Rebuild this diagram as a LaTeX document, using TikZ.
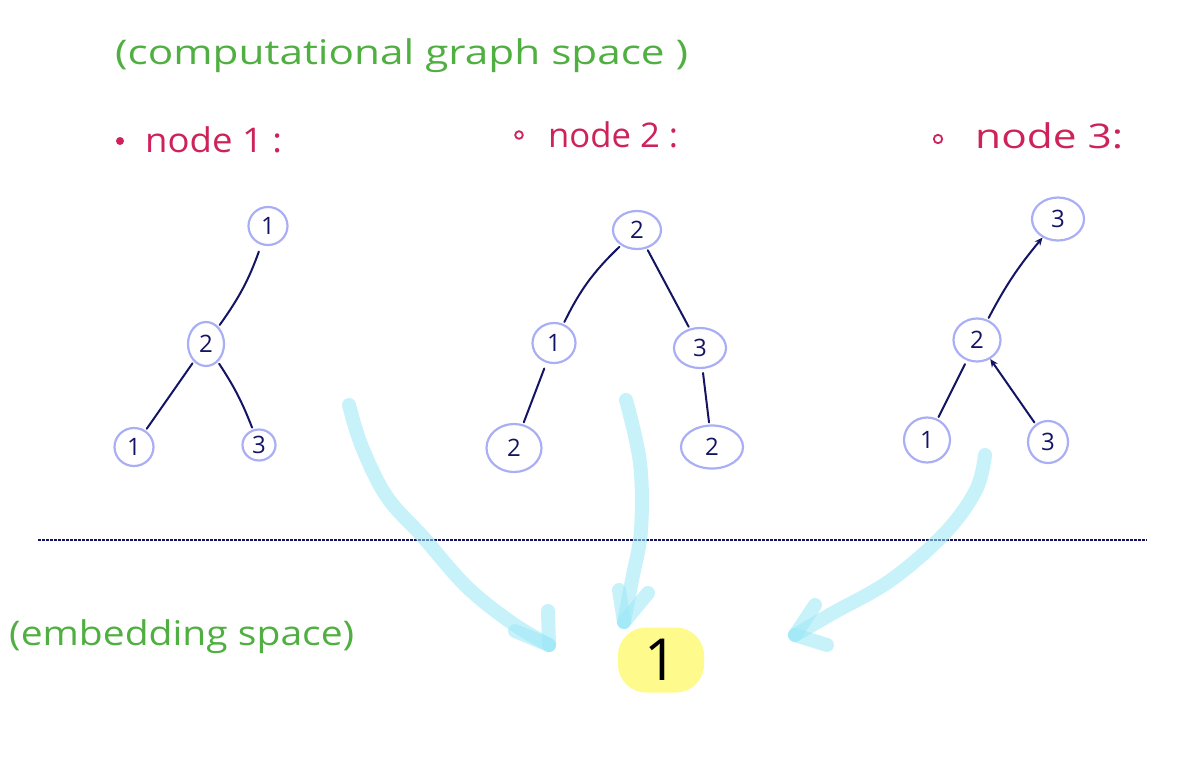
\documentclass[tikz,border=0pt]{standalone}
\usepackage{fontspec}
\setmainfont{Open Sans}
\usetikzlibrary{shapes.geometric,arrows.meta}
\definecolor{hgreen}{RGB}{80,175,65}
\definecolor{hred}{RGB}{205,35,90}
\definecolor{lav}{RGB}{170,175,245}
\definecolor{navyc}{RGB}{20,20,100}
\definecolor{cyanhl}{RGB}{155,231,246}
\definecolor{yel}{RGB}{255,250,140}
\begin{document}
\begin{tikzpicture}[x=1pt,y=-1pt,
  cnode/.style={ellipse,draw=lav,line width=2.2pt,inner sep=0pt,text=navyc,font=\fontsize{24}{24}\selectfont},
  edge/.style={draw=navyc,line width=2pt,line cap=round,shorten <=2pt,shorten >=2pt},
  aedge/.style={edge,-{Stealth[length=8pt,width=7pt]},shorten >=0pt},
  hl/.style={draw=cyanhl,opacity=0.55,line width=14pt,line cap=round,line join=round},
  gtext/.style={anchor=base west,inner sep=0pt,text=hgreen,font=\fontsize{34}{34}\selectfont},
  rtext/.style={anchor=base west,inner sep=0pt,text=hred,font=\fontsize{34}{34}\selectfont},
]
\useasboundingbox (0,0) rectangle (1186,760);
% titles
\node[gtext] (title) at (115,65) {\resizebox{573pt}{\height}{(computational graph space )}};
\node[gtext] (emtitle) at (9,645) {\resizebox{345pt}{\height}{(embedding space)}};
% node labels
\fill[hred] (120,141) circle (4pt);
\node[rtext] (lab1) at (145,152) {\resizebox{137pt}{\height}{node 1 :}};
\draw[hred,line width=1.8pt] (519,135) circle (3.8pt);
\node[rtext] (lab2) at (548,147) {\resizebox{130pt}{\height}{node 2 :}};
\draw[hred,line width=1.8pt] (938,139) circle (4.2pt);
\node[rtext] (lab3) at (975,148) {\resizebox{148pt}{\height}{node 3:}};
% tree 1
\node[cnode,minimum width=39pt,minimum height=38pt] (t1a) at (268,226) {1};
\node[cnode,minimum width=36pt,minimum height=44pt] (t1b) at (206,344) {2};
\node[cnode,minimum width=39pt,minimum height=38pt] (t1c) at (134,447) {1};
\node[cnode,minimum width=33pt,minimum height=31pt] (t1d) at (259,445) {3};
\draw[edge,shorten <=7pt] (t1a) to[bend left=8] (t1b);
\draw[edge] (t1b) -- (t1c);
\draw[edge] (t1b) to[bend left=6] (t1d);
% tree 2
\node[cnode,minimum width=48pt,minimum height=38pt] (t2a) at (637,230) {2};
\node[cnode,minimum width=43pt,minimum height=40pt] (t2b) at (554,343) {1};
\node[cnode,minimum width=55pt,minimum height=48pt] (t2c) at (514,448) {2};
\node[cnode,minimum width=52pt,minimum height=40pt] (t2d) at (700,348) {3};
\node[cnode,minimum width=62pt,minimum height=43pt] (t2e) at (712,447) {2};
\draw[edge] (t2a) to[bend right=10] (t2b);
\draw[edge] (t2a) -- (t2d);
\draw[edge,shorten <=6pt] (t2b) -- (t2c);
\draw[edge,shorten <=4pt] (t2d) -- (t2e);
% tree 3
\node[cnode,minimum width=52pt,minimum height=43pt] (t3a) at (1058,219) {3};
\node[cnode,minimum width=47pt,minimum height=43pt] (t3b) at (977,340) {2};
\node[cnode,minimum width=46pt,minimum height=45pt] (t3c) at (927,440) {1};
\node[cnode,minimum width=40pt,minimum height=42pt] (t3d) at (1048,442) {3};
\draw[aedge] (t3b) to[bend left=6] (t3a);
\draw[edge,shorten <=4pt] (t3b) -- (t3c);
\draw[aedge] (t3d) -- (t3b);
% separator
\coordinate (sepl) at (38,540);
\coordinate (sepr) at (1147,540);
\draw[navyc,line width=1.5pt,dash pattern=on 2.5pt off 1.5pt] (sepl) -- (sepr);
% embedding
\node[fill=yel,rounded corners=28pt,minimum width=86pt,minimum height=65pt,inner sep=0pt,font=\fontsize{58}{58}\selectfont] (emb) at (661,660) {1};
% highlighter arrows
\coordinate (a1s) at (349,405); \coordinate (a1t) at (549,645);
\coordinate (a2s) at (626,400); \coordinate (a2t) at (624,622);
\coordinate (a3s) at (985,455); \coordinate (a3t) at (795,635);
\draw[hl] plot[smooth,tension=0.6] coordinates {(a1s) (362,447) (387,497) (423,537) (467,587) (512,623) (a1t)};
\draw[hl] (548,611) -- (a1t);
\draw[hl] (515,631) -- (a1t);
\draw[hl] plot[smooth,tension=0.6] coordinates {(a2s) (640,463) (641,530) (632,580) (a2t)};
\draw[hl] (619,590) -- (a2t);
\draw[hl] (648,593) -- (a2t);
\draw[hl] plot[smooth,tension=0.6] coordinates {(a3s) (976,490) (945,533) (891,580) (833,613) (a3t)};
\draw[hl] (815,605) -- (a3t);
\draw[hl] (827,645) -- (a3t);
\end{tikzpicture}
\end{document}
